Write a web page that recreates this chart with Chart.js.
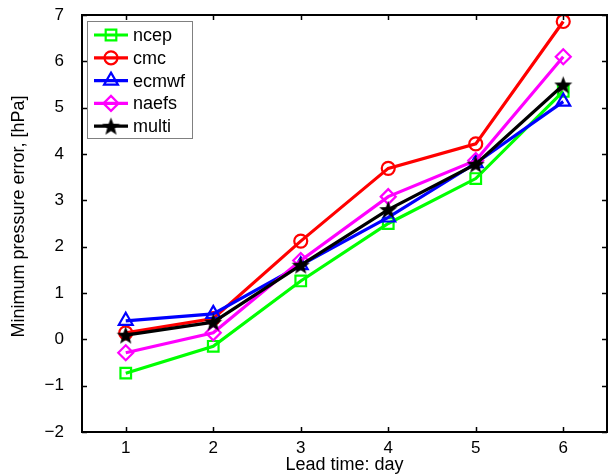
<!DOCTYPE html>
<html>
<head>
<meta charset="utf-8">
<script src="https://cdn.jsdelivr.net/npm/chart.js@4.4.0/dist/chart.umd.min.js"></script>
<style>
  html, body { margin: 0; padding: 0; background: #fff; }
</style>
</head>
<body>
<canvas id="errChart" width="609" height="474"></canvas>
<script>
// Lead time (days) and minimum pressure error per centre [hPa]
const days = [1, 2, 3, 4, 5, 6];
const ncep = [-0.73, -0.15, 1.26, 2.5, 3.47, 5.35];
const cmc = [0.14, 0.45, 2.12, 3.69, 4.22, 6.86];
const ecmwf = [0.4, 0.55, 1.6, 2.63, 3.8, 5.13];
const naefs = [-0.29, 0.14, 1.7, 3.08, 3.86, 6.1];
const multi = [0.09, 0.37, 1.6, 2.8, 3.78, 5.49];
const seriesNames = ['ncep', 'cmc', 'ecmwf', 'naefs', 'multi'];
const yTicks = [-2, -1, 0, 1, 2, 3, 4, 5, 6, 7];
const yTitle = 'Minimum pressure error, [hPa]';

const FONT = "'Liberation Sans', Arial, sans-serif";

// filled pentagram marker (Chart.js only has an asterisk 'star')
function makeStar(size) {
    const c = document.createElement('canvas');
    c.width = c.height = size;
    const g = c.getContext('2d');
    const r = size / 2, ri = r * 0.42;
    g.beginPath();
    for (let k = 0; k < 10; k++) {
        const rad = k % 2 ? ri : r;
        const ang = -Math.PI / 2 + k * Math.PI / 5;
        g.lineTo(r + rad * Math.cos(ang), r + rad * Math.sin(ang) + 0.8);
    }
    g.closePath();
    g.fillStyle = '#000';
    g.fill();
    return c;
}

const styles = [
    { color: '#00ff00', marker: 'rect', radius: 7.5 },
    { color: '#ff0000', marker: 'circle', radius: 6.5 },
    { color: '#0000ff', marker: 'triangle', radius: 8 },
    { color: '#ff00ff', marker: 'rectRot', radius: 7.5 },
    { color: '#000000', marker: makeStar(19), radius: 9.5 }
];
const values = [ncep, cmc, ecmwf, naefs, multi];

const datasets = seriesNames.map((name, i) => ({
    label: name,
    data: days.map((d, j) => ({ x: d, y: values[i][j] })),
    borderColor: styles[i].color,
    backgroundColor: 'rgba(0,0,0,0)',
    pointBackgroundColor: 'rgba(0,0,0,0)',
    pointBorderColor: styles[i].color,
    pointStyle: styles[i].marker,
    pointRadius: styles[i].radius,
    pointBorderWidth: 2.2,
    borderWidth: 3.2,
    tension: 0,
    order: seriesNames.length - i   // later series drawn on top, like matlab
}));

// box around plot with inward ticks on all four sides, plus y title
const framePlugin = {
    id: 'frame',
    afterDatasetsDraw(chart) {
        const { ctx, chartArea: a } = chart;
        const xs = chart.scales.x, ys = chart.scales.y;
        ctx.save();
        ctx.strokeStyle = '#000';
        ctx.lineWidth = 1.5;
        ctx.beginPath();
        days.forEach(d => {
            const px = Math.round(xs.getPixelForValue(d)) + 0.5;
            ctx.moveTo(px, a.bottom); ctx.lineTo(px, a.bottom - 5);
            ctx.moveTo(px, a.top); ctx.lineTo(px, a.top + 5);
        });
        yTicks.forEach(v => {
            const py = Math.round(ys.getPixelForValue(v)) + 0.5;
            ctx.moveTo(a.left, py); ctx.lineTo(a.left + 5, py);
            ctx.moveTo(a.right, py); ctx.lineTo(a.right - 5, py);
        });
        ctx.stroke();
        ctx.lineWidth = 2;
        ctx.strokeRect(a.left, a.top, a.right - a.left, a.bottom - a.top);

        // y title sits a little above the plot centre in the original
        ctx.translate(19, (a.top + a.bottom) / 2 - 7);
        ctx.rotate(-Math.PI / 2);
        ctx.fillStyle = '#000';
        ctx.font = '18px ' + FONT;
        ctx.textAlign = 'center';
        ctx.textBaseline = 'middle';
        ctx.fillText(yTitle, 0, 0);
        ctx.restore();
    }
};

// matlab-style legend: line with marker, boxed, upper left
const boxLegend = {
    id: 'boxLegend',
    afterDraw(chart) {
        const { ctx, chartArea: a } = chart;
        const x0 = a.left + 5, y0 = a.top + 6;
        ctx.save();
        ctx.fillStyle = '#fff';
        ctx.fillRect(x0, y0, 105, 117);
        ctx.strokeStyle = '#808080';
        ctx.lineWidth = 1;
        ctx.strokeRect(x0 + 0.5, y0 + 0.5, 105, 117);
        chart.data.datasets.forEach((ds, i) => {
            const y = y0 + 14 + i * 22.8;
            ctx.strokeStyle = ds.borderColor;
            ctx.lineWidth = 3.2;
            ctx.beginPath();
            ctx.moveTo(x0 + 7, y);
            ctx.lineTo(x0 + 41, y);
            ctx.stroke();
            ctx.lineWidth = ds.pointBorderWidth;
            ctx.fillStyle = ds.pointBackgroundColor;
            Chart.helpers.drawPoint(ctx, {
                pointStyle: ds.pointStyle,
                radius: ds.pointRadius,
                borderWidth: ds.pointBorderWidth,
                rotation: 0
            }, x0 + 24, y);
            ctx.fillStyle = '#000';
            ctx.font = '18px ' + FONT;
            ctx.textBaseline = 'middle';
            ctx.textAlign = 'left';
            ctx.fillText(ds.label, x0 + 46, y + 1);
        });
        ctx.restore();
    }
};

const minus = v => String(v).replace('-', '\u2212');

new Chart(document.getElementById('errChart'), {
    type: 'line',
    data: { datasets },
    options: {
        responsive: false,
        animation: false,
        devicePixelRatio: 1,
        layout: { autoPadding: false, padding: { top: 15, right: 2, left: 0, bottom: 0 } },
        plugins: { legend: { display: false }, tooltip: { enabled: false } },
        scales: {
            x: {
                type: 'linear',
                min: 0.5,
                max: 6.5,
                afterBuildTicks: s => { s.ticks = days.map(v => ({ value: v })); },
                afterFit: s => { s.height = 42; s.paddingLeft = 0; s.paddingRight = 0; },
                grid: { display: false, drawTicks: false },
                border: { display: false },
                ticks: { color: '#000', font: { family: FONT, size: 17 }, padding: 6, maxRotation: 0 },
                title: {
                    display: true, text: 'Lead time: day', color: '#000',
                    font: { family: FONT, size: 18, lineHeight: 1 }, padding: { top: 0, bottom: 0 }
                }
            },
            y: {
                type: 'linear',
                min: -2,
                max: 7,
                afterBuildTicks: s => { s.ticks = yTicks.map(v => ({ value: v })); },
                afterFit: s => { s.width = 82; s.paddingTop = 0; s.paddingBottom = 0; },
                grid: { display: false, drawTicks: false },
                border: { display: false },
                ticks: { color: '#000', font: { family: FONT, size: 17 }, padding: 18, callback: minus }
            }
        }
    },
    plugins: [framePlugin, boxLegend]
});
</script>
</body>
</html>
